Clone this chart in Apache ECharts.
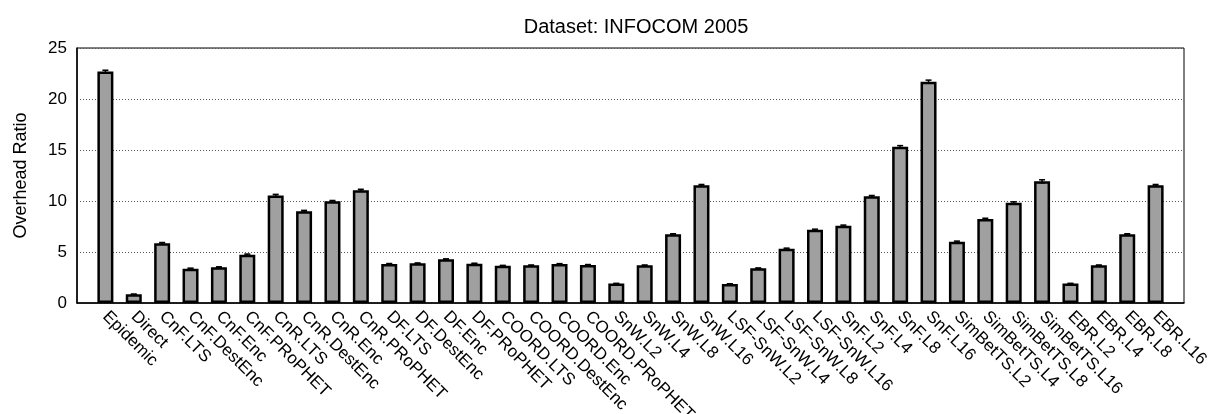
<!DOCTYPE html>
<html>
<head>
<meta charset="utf-8">
<script src="https://cdn.jsdelivr.net/npm/echarts@6/dist/echarts.min.js"></script>
<style>
html,body{margin:0;padding:0;background:#fff;}
#chart{width:1213px;height:414px;}
</style>
</head>
<body>
<div id="chart"></div>
<script>
const categories = ['Epidemic','Direct','CnF.LTS','CnF.DestEnc','CnF.Enc','CnF.PRoPHET','CnR.LTS','CnR.DestEnc','CnR.Enc','CnR.PRoPHET',
  'DF.LTS','DF.DestEnc','DF.Enc','DF.PRoPHET','COORD.LTS','COORD.DestEnc','COORD.Enc','COORD.PRoPHET',
  'SnW.L2','SnW.L4','SnW.L8','SnW.L16','LSF-SnW.L2','LSF-SnW.L4','LSF-SnW.L8','LSF-SnW.L16',
  'SnF.L2','SnF.L4','SnF.L8','SnF.L16','SimBetTS.L2','SimBetTS.L4','SimBetTS.L8','SimBetTS.L16',
  'EBR.L2','EBR.L4','EBR.L8','EBR.L16'];
const overheadRatio = [22.7,0.85,5.85,3.37,3.5,4.74,10.55,9.0,9.97,11.05,
  3.83,3.89,4.28,3.86,3.65,3.69,3.82,3.73,
  1.9,3.69,6.73,11.54,1.86,3.4,5.33,7.18,
  7.58,10.46,15.33,21.7,6.01,8.24,9.84,11.93,
  1.9,3.69,6.73,11.54];
const errors = [0.12,0.03,0.08,0.05,0.05,0.06,0.1,0.08,0.08,0.1,
  0.04,0.04,0.05,0.04,0.04,0.04,0.04,0.04,
  0.03,0.04,0.06,0.08,0.03,0.04,0.05,0.06,
  0.06,0.08,0.1,0.15,0.06,0.07,0.08,0.15,
  0.03,0.04,0.06,0.08];
const yTicks = [0,5,10,15,20,25];

// one empty slot on each side of the categories (x range -1 .. N)
const axisCats = [''].concat(categories, ['']);
const barData = [null].concat(overheadRatio, [null]);
const errData = overheadRatio.map((v, i) => [i + 1, v - errors[i], v + errors[i]]);

const chart = echarts.init(document.getElementById('chart'));
const FONT = 'Liberation Sans';
chart.setOption({
  animation: false,
  title: {
    text: 'Dataset: INFOCOM 2005',
    left: 631, top: 12, textAlign: 'center',
    textStyle: {fontFamily: FONT, fontSize: 20, fontWeight: 'normal', color: '#000'}
  },
  grid: {left: 77, right: 29, top: 48, bottom: 111, outerBoundsMode: 'none', containLabel: false,
    show: true, borderColor: '#000', borderWidth: 1, backgroundColor: 'transparent'},
  xAxis: {
    type: 'category', data: axisCats, boundaryGap: false,
    axisLine: {show: true, lineStyle: {color: '#000', width: 1.5}},
    axisTick: {show: false},
    splitLine: {show: false},
    axisLabel: {
      interval: 0, rotate: -45, margin: 11,
      fontFamily: FONT, fontSize: 17, color: '#000'
    }
  },
  yAxis: {
    type: 'value', min: yTicks[0], max: yTicks[yTicks.length-1], interval: 5,
    name: 'Overhead Ratio', nameLocation: 'middle', nameGap: 47,
    nameTextStyle: {fontFamily: FONT, fontSize: 18, color: '#000'},
    axisLine: {show: true, lineStyle: {color: '#000', width: 1.5}},
    axisTick: {show: false},
    axisLabel: {fontFamily: FONT, fontSize: 17, color: '#000', margin: 10},
    splitLine: {show: true, lineStyle: {color: '#555', type: [1, 2], width: 1}}
  },
  series: [
    {
      type: 'bar', barWidth: 16, barMaxWidth: 20,
      data: barData,
      itemStyle: {color: '#a0a0a0', borderColor: '#000', borderWidth: 2.5},
      z: 2
    },
    {
      type: 'custom', z: 3,
      data: errData,
      encode: {x: 0, y: [1, 2]},
      renderItem: function (params, api) {
        const x = api.value(0);
        const lo = api.coord([x, api.value(1)]);
        const hi = api.coord([x, api.value(2)]);
        const hw = 3;
        const st = {stroke: '#000', lineWidth: 1.5};
        return {type: 'group', children: [
          {type: 'line', shape: {x1: lo[0], y1: lo[1], x2: hi[0], y2: hi[1]}, style: st},
          {type: 'line', shape: {x1: hi[0]-hw, y1: hi[1], x2: hi[0]+hw, y2: hi[1]}, style: st},
          {type: 'line', shape: {x1: lo[0]-hw, y1: lo[1], x2: lo[0]+hw, y2: lo[1]}, style: st}
        ]};
      }
    }
  ]
});
</script>
</body>
</html>
